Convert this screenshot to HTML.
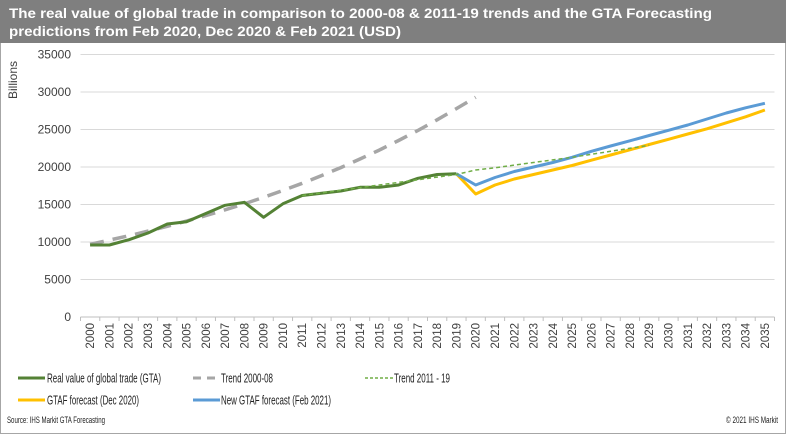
<!DOCTYPE html>
<html><head><meta charset="utf-8"><style>
html,body{margin:0;padding:0;background:#fff;}
svg{display:block;font-family:"Liberation Sans",Arial,sans-serif;}
</style></head><body>
<svg id="chart" width="786" height="434" viewBox="0 0 786 434">
<rect x="0.5" y="0.5" width="785" height="433" fill="#fff" stroke="#a6a6a6"/>
<rect x="0" y="0" width="786" height="43" fill="#7f7f7f"/>
<text x="9" y="18" fill="#fff" font-size="14" font-weight="bold" textLength="703" lengthAdjust="spacingAndGlyphs">The real  value of global trade in comparison to 2000-08 &amp; 2011-19 trends and the GTA Forecasting</text>
<text x="9" y="36" fill="#fff" font-size="14" font-weight="bold" textLength="392" lengthAdjust="spacingAndGlyphs">predictions from Feb 2020,  Dec 2020  &amp; Feb 2021 (USD)</text>
<text transform="translate(17,80) rotate(-90)" font-size="12" fill="#404040" text-anchor="middle">Billions</text>
<g id="grid"></g><g id="yticks"></g><g id="xticks"></g><g id="series"></g>
<g>
<line x1="18" y1="378" x2="45" y2="378" stroke="#548235" stroke-width="3"/>
<text x="47" y="382.5" font-size="13" fill="#222" textLength="114" lengthAdjust="spacingAndGlyphs">Real value of global trade (GTA)</text>
<line x1="193" y1="378" x2="220" y2="378" stroke="#a6a6a6" stroke-width="3" stroke-dasharray="8,6"/>
<text x="221" y="382.5" font-size="13" fill="#222" textLength="52" lengthAdjust="spacingAndGlyphs">Trend 2000-08</text>
<line x1="365" y1="378" x2="393" y2="378" stroke="#70ad47" stroke-width="1.5" stroke-dasharray="3,2"/>
<text x="394" y="382.5" font-size="13" fill="#222" textLength="56" lengthAdjust="spacingAndGlyphs">Trend 2011 - 19</text>
<line x1="18" y1="400" x2="45" y2="400" stroke="#ffc000" stroke-width="3"/>
<text x="47" y="404.5" font-size="13" fill="#222" textLength="92" lengthAdjust="spacingAndGlyphs">GTAF forecast (Dec 2020)</text>
<line x1="193" y1="400" x2="220" y2="400" stroke="#5b9bd5" stroke-width="3"/>
<text x="221" y="404.5" font-size="13" fill="#222" textLength="110" lengthAdjust="spacingAndGlyphs">New GTAF forecast (Feb 2021)</text>
</g>
<text x="7" y="423" font-size="9" fill="#222" textLength="98" lengthAdjust="spacingAndGlyphs">Source: IHS Markit GTA Forecasting</text>
<text x="778" y="423" font-size="9" fill="#222" text-anchor="end" textLength="52" lengthAdjust="spacingAndGlyphs">© 2021 IHS Markit</text>
</svg>
<script>
const years=[];for(let y=2000;y<=2035;y++)years.push(String(y));
const yTicks=[0,5000,10000,15000,20000,25000,30000,35000];
const realGTA=[9600,9600,10300,11200,12400,12700,13800,14900,15300,13300,15100,16200,16500,16800,17300,17300,17600,18500,19000,19100];
const trend0008=[9700,10250,10830,11450,12100,12790,13520,14290,15100,15960,16870,17830,18850,19920,21060,22260,23530,24870,26290,27790,29300];
const trend1119=[16200,16550,16900,17250,17600,17950,18300,18650,19000,19600,19900,20250,20600,20950,21300,21700,22100,22500,22900];
const gtafDec2020=[19100,16400,17600,18400,19000,19600,20200,20900,21600,22300,23000,23700,24400,25100,25900,26700,27600];
const gtafFeb2021=[19100,17600,18600,19400,20000,20600,21300,22100,22800,23500,24200,24900,25600,26400,27200,27900,28500];
const NS='http://www.w3.org/2000/svg';
const L=80.5,R=774.5,T=54.5,B=317,maxV=35000;
const band=(R-L)/years.length;
const xs=i=>L+band*(i+0.5);
const ys=v=>B-(v/maxV)*(B-T);
function mk(tag,attrs,parent){const e=document.createElementNS(NS,tag);for(const k in attrs)e.setAttribute(k,attrs[k]);parent.appendChild(e);return e;}
const grid=document.getElementById('grid'),yt=document.getElementById('yticks'),xt=document.getElementById('xticks'),ser=document.getElementById('series');
yTicks.forEach(v=>{
 if(v>0){const g=mk('line',{x1:L,x2:R,y1:ys(v),y2:ys(v),stroke:'#d9d9d9','stroke-width':1},grid);
 
 }
 const t=mk('text',{x:71,y:ys(v)+4,'font-size':12,fill:'#404040','text-anchor':'end'},yt);
 t.textContent=v;
 
 
});
const ax=mk('line',{x1:L,x2:R,y1:B,y2:B,stroke:'#bfbfbf','stroke-width':1},xt);


for(let i=0;i<=years.length;i++){const tk=mk('line',{x1:L+band*i,x2:L+band*i,y1:B,y2:B+4,stroke:'#bfbfbf'},xt);
 
 }
years.forEach((y,i)=>{
 const t=mk('text',{transform:`translate(${xs(i)+4},${B+6}) rotate(-90)`,'font-size':11.5,fill:'#404040','text-anchor':'end'},xt);
 t.textContent=y;
 
 
});
function line(vals,start,stroke,w,dash,name){
 const pts=vals.map((v,i)=>xs(start+i).toFixed(1)+','+ys(v).toFixed(1)).join(' ');
 const p=mk('polyline',{points:pts,fill:'none',stroke:stroke,'stroke-width':w,'stroke-linejoin':'round'},ser);
 if(dash)p.setAttribute('stroke-dasharray',dash);
 
 
}
line(trend0008,0,'#a6a6a6',3.5,'14,9','trend-2000-08-line');
line(gtafDec2020,19,'#ffc000',3,null,'gtaf-dec-2020-line');
line(gtafFeb2021,19,'#5b9bd5',3,null,'gtaf-feb-2021-line');
line(realGTA,0,'#548235',3,null,'real-gta-line');
line(trend1119,11,'#70ad47',1.5,'4,3','trend-2011-19-line');
</script>
</body></html>
